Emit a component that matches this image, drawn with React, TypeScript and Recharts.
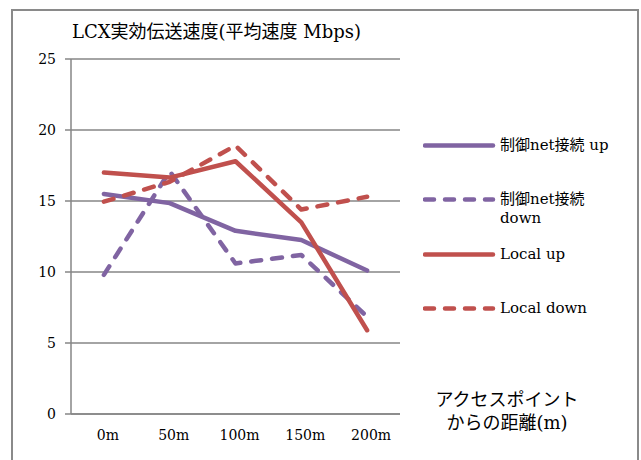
import { LineChart, Line, XAxis, YAxis, CartesianGrid } from 'recharts'

const distances = ['0m', '50m', '100m', '150m', '200m']
const ctrlUp = [15.5, 14.85, 12.9, 12.25, 10.1]
const ctrlDown = [9.8, 17.1, 10.6, 11.2, 6.85]
const localUp = [17.0, 16.65, 17.8, 13.5, 5.9]
const localDown = [14.95, 16.35, 18.9, 14.4, 15.3]
const yTicks = [0, 5, 10, 15, 20, 25]
const boundaryTicks = [0, 1, 2, 3, 4, 5]
const centerTicks = [0.5, 1.5, 2.5, 3.5, 4.5]

const PURPLE = '#8064A2'
const RED = '#C0504D'
const GRID = '#868686'
const FONT = "'DejaVu Serif', 'Noto Sans CJK JP', serif"
const DASH = '10 11'

const series = [
  { key: 'ctrlUp', name: '制御net接続 up', color: PURPLE, dash: undefined as string | undefined },
  { key: 'ctrlDown', name: '制御net接続 down', color: PURPLE, dash: DASH },
  { key: 'localUp', name: 'Local up', color: RED, dash: undefined },
  { key: 'localDown', name: 'Local down', color: RED, dash: DASH },
]

const data = distances.map((label, i) => ({
  pos: i + 0.5,
  label,
  ctrlUp: ctrlUp[i],
  ctrlDown: ctrlDown[i],
  localUp: localUp[i],
  localDown: localDown[i],
}))

function LegendBox() {
  return (
    <div style={{ position: 'absolute', left: 423, top: 135.5, fontFamily: FONT }}>
      {series.map((s, i) => (
        <div
          key={s.key}
          style={{ position: 'absolute', left: 0, top: i * 54.5, display: 'flex', alignItems: 'flex-start' }}
        >
          <svg width={74} height={19} style={{ flex: 'none' }}>
            <line
              x1={2}
              y1={9.5}
              x2={70}
              y2={9.5}
              stroke={s.color}
              strokeWidth={4.5}
              strokeLinecap="round"
              strokeDasharray={s.dash === undefined ? undefined : '9 11'}
            />
          </svg>
          <div style={{ width: 120, fontSize: 15, lineHeight: '19px', color: '#000', marginLeft: 3 }}>{s.name}</div>
        </div>
      ))}
    </div>
  )
}

export default function App() {
  return (
    <div style={{ position: 'absolute', left: 0, top: 0, width: 641, height: 460, overflow: 'hidden', background: '#fff' }}>
      <div
        style={{
          position: 'absolute',
          left: 11,
          top: 9,
          width: 628,
          height: 480,
          boxSizing: 'border-box',
          border: '2px solid #8a8a8a',
        }}
      />
      <div
        style={{
          position: 'absolute',
          left: 72,
          top: 21,
          fontFamily: FONT,
          fontSize: 18,
          lineHeight: '22px',
          whiteSpace: 'nowrap',
          color: '#000',
        }}
      >
        LCX実効伝送速度(平均速度 Mbps)
      </div>
      <div style={{ position: 'absolute', left: 0, top: 0 }}>
        <LineChart width={641} height={460} data={data} margin={{ top: 59, right: 241, bottom: 0, left: 0 }}>
          <CartesianGrid xAxisId="grid" vertical={false} stroke={GRID} strokeWidth={1.5} />
          <XAxis
            xAxisId="grid"
            type="number"
            dataKey="pos"
            domain={[0, 5]}
            ticks={boundaryTicks}
            tick={false}
            tickSize={4}
            height={6}
            axisLine={{ stroke: GRID, strokeWidth: 1.5 }}
            tickLine={{ stroke: GRID, strokeWidth: 1.5 }}
          />
          <XAxis
            xAxisId="labels"
            type="number"
            dataKey="pos"
            domain={[0, 5]}
            ticks={centerTicks}
            tickFormatter={(v: number) => distances[Math.floor(v)]}
            axisLine={false}
            tickLine={false}
            tickSize={0}
            tickMargin={10}
            height={40}
            tick={{ fill: '#000', fontSize: 14, fontFamily: FONT, dx: 4 }}
          />
          <YAxis
            domain={[0, 25]}
            ticks={yTicks}
            width={71}
            tickSize={6}
            tickMargin={9}
            axisLine={{ stroke: GRID, strokeWidth: 1.5 }}
            tickLine={{ stroke: GRID, strokeWidth: 1.5 }}
            tick={{ fill: '#000', fontSize: 14, fontFamily: FONT }}
          />
          {series.map((s) => (
            <Line
              key={s.key}
              xAxisId="grid"
              type="linear"
              dataKey={s.key}
              name={s.name}
              stroke={s.color}
              strokeWidth={4.5}
              strokeDasharray={s.dash}
              strokeLinecap="round"
              strokeLinejoin="round"
              dot={false}
              activeDot={false}
              isAnimationActive={false}
            />
          ))}
        </LineChart>
      </div>
      <LegendBox />
      <div
        style={{
          position: 'absolute',
          left: 407,
          top: 388,
          width: 200,
          textAlign: 'center',
          fontFamily: FONT,
          fontSize: 18,
          lineHeight: '23px',
          color: '#000',
        }}
      >
        アクセスポイント
        <br />
        からの距離(m)
      </div>
    </div>
  )
}
